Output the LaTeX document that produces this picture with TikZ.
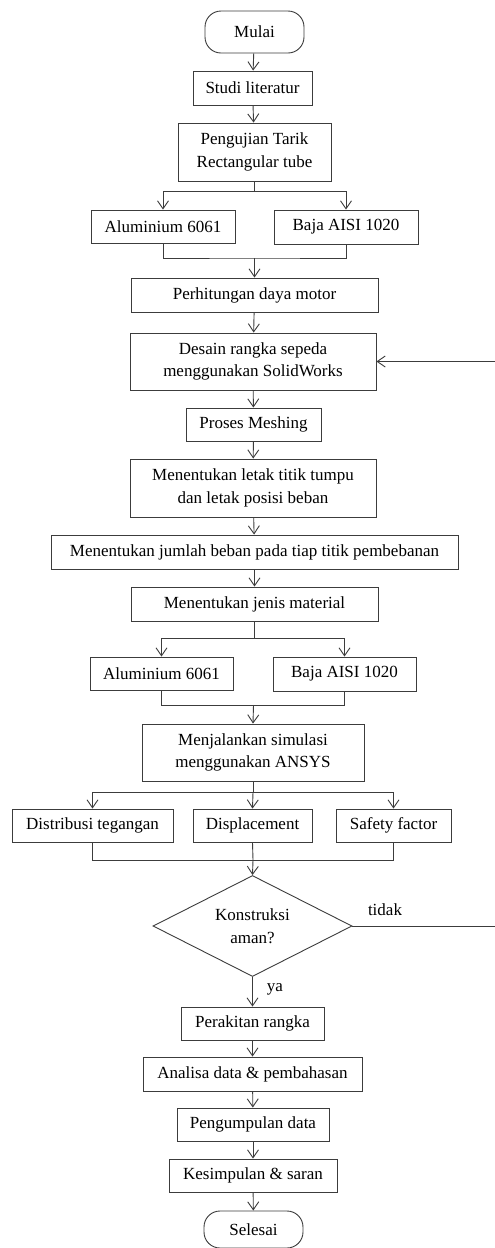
\documentclass[tikz,border=0pt]{standalone}
\usepackage{fontspec}
\setmainfont{Liberation Serif}
\usetikzlibrary{shapes.geometric,arrows.meta}
\definecolor{lc}{HTML}{3C3C3C}
\begin{document}
\begin{tikzpicture}[x=1pt,y=-1pt,
  txt/.style={font=\fontsize{17}{22.5}\selectfont, text=black},
  box/.style={txt, draw=lc, line width=0.9pt, inner sep=0pt, align=center},
  term/.style={box, rounded corners=16pt},
  ln/.style={draw=lc, line width=0.9pt},
  arr/.style={ln, -{Straight Barb[length=8pt,width=11pt]}}]
\useasboundingbox (0,0) rectangle (495,1248);
\fill[white] (0,0) rectangle (495,1248);

\node[term, minimum width=99pt, minimum height=42pt] (mulai) at (254.5,32) {Mulai};
\node[box, minimum width=119pt, minimum height=34pt] (studi) at (252.5,88) {Studi literatur};
\node[box, minimum width=153pt, minimum height=58pt] (uji) at (254.5,152) {Pengujian Tarik\\Rectangular tube};
\node[box, minimum width=144pt, minimum height=33pt] (al1) at (163,226.5) {Aluminium 6061};
\node[box, minimum width=144pt, minimum height=34pt] (baja1) at (346,227) {Baja AISI 1020};
\node[box, minimum width=247pt, minimum height=34pt] (hitung) at (254.5,295) {Perhitungan daya motor};
\node[box, minimum width=246pt, minimum height=57pt] (desain) at (253,361.5) {Desain rangka sepeda\\menggunakan SolidWorks};
\node[box, minimum width=135pt, minimum height=33pt] (mesh) at (253.5,424.5) {Proses Meshing};
\node[box, minimum width=246pt, minimum height=58pt] (letak) at (253,488) {Menentukan letak titik tumpu\\dan letak posisi beban};
\node[box, minimum width=407pt, minimum height=34pt] (jumlah) at (254.5,552) {Menentukan jumlah beban pada tiap titik pembebanan};
\node[box, minimum width=247pt, minimum height=34pt] (jenis) at (254.5,604) {Menentukan jenis material};
\node[box, minimum width=143pt, minimum height=33pt] (al2) at (161.5,673.5) {Aluminium 6061};
\node[box, minimum width=143pt, minimum height=34pt] (baja2) at (344.5,674) {Baja AISI 1020};
\node[box, minimum width=222pt, minimum height=57pt] (sim) at (253,752.5) {Menjalankan simulasi\\menggunakan ANSYS};
\node[box, minimum width=161pt, minimum height=33pt] (dist) at (92.5,825.5) {Distribusi tegangan};
\node[box, minimum width=119pt, minimum height=33pt] (disp) at (252.5,825.5) {Displacement};
\node[box, minimum width=115pt, minimum height=33pt] (safe) at (393.5,825.5) {Safety factor};
\node[box, diamond, aspect=2, minimum width=199pt, minimum height=101pt] (dec) at (252.5,926) {Konstruksi\\aman?};
\node[box, minimum width=143pt, minimum height=33pt] (rakit) at (252.5,1023.5) {Perakitan rangka};
\node[box, minimum width=219pt, minimum height=34pt] (analisa) at (252.5,1074) {Analisa data \& pembahasan};
\node[box, minimum width=152pt, minimum height=33pt] (kumpul) at (253,1124.5) {Pengumpulan data};
\node[box, minimum width=168pt, minimum height=33pt] (simpul) at (253,1175.5) {Kesimpulan \& saran};
\node[term, minimum width=99pt, minimum height=37pt] (selesai) at (253.5,1229.5) {Selesai};

\node[txt, inner sep=0pt] (tidak) at (385,910) {tidak};
\node[txt, inner sep=0pt] (ya) at (275,989) {ya};

\coordinate (s1) at (254.5,191);
\coordinate (j1) at (254.5,258);
\coordinate (s2) at (254.5,638);
\coordinate (j2) at (253.5,705);
\coordinate (s3) at (253,792);
\coordinate (j3) at (253,860);
\coordinate (e1) at (498,926);
\coordinate (e2) at (498,361.5);

\draw[arr] (mulai) -- (studi);
\draw[arr] (studi) -- (uji);
\draw[ln] (uji.south) -- (s1);
\draw[arr] (s1) -| (al1.north);
\draw[arr] (s1) -| (baja1.north);
\draw[ln] (al1.south) |- (j1) -| (baja1.south);
\draw[arr] (j1) -- (hitung.north);
\draw[arr] (hitung) -- (desain);
\draw[arr] (desain) -- (mesh);
\draw[arr] (mesh) -- (letak);
\draw[arr] (letak) -- (jumlah);
\draw[arr] (jumlah) -- (jenis);
\draw[ln] (jenis.south) -- (s2);
\draw[arr] (s2) -| (al2.north);
\draw[arr] (s2) -| (baja2.north);
\draw[ln] (al2.south) |- (j2) -| (baja2.south);
\draw[arr] (j2) -- (sim.north);
\draw[ln] (sim.south) -- (s3);
\draw[arr] (s3) -| (dist.north);
\draw[arr] (s3) -- (disp.north);
\draw[arr] (s3) -| (safe.north);
\draw[ln] (dist.south) |- (j3) -| (safe.south);
\draw[ln] (disp.south) -- (j3);
\draw[arr] (j3) -- (dec.north);
\draw[arr] (dec.south) -- (rakit.north);
\draw[arr] (rakit) -- (analisa);
\draw[arr] (analisa) -- (kumpul);
\draw[arr] (kumpul) -- (simpul);
\draw[arr] (simpul) -- (selesai);
\draw[ln] (dec.east) -- (e1) -- (e2);
\draw[arr] (e2) -- (desain.east);
\end{tikzpicture}
\end{document}
